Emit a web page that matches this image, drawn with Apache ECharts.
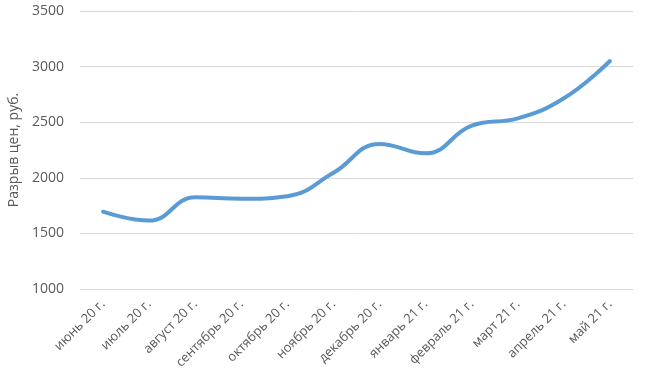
<!DOCTYPE html>
<html>
<head>
<meta charset="utf-8">
<script src="https://cdn.jsdelivr.net/npm/echarts@6/dist/echarts.min.js"></script>
<style>
html, body { margin: 0; padding: 0; background: #fff; }
#chart { width: 645px; height: 385px; }
</style>
</head>
<body>
<div id="chart"></div>
<script>
var months = ['июнь 20 г.', 'июль 20 г.', 'август 20 г.', 'сентябрь 20 г.', 'октябрь 20 г.', 'ноябрь 20 г.',
	'декабрь 20 г.', 'январь 21 г.', 'февраль 21 г.', 'март 21 г.', 'апрель 21 г.', 'май 21 г.'];
var priceGap = [1695, 1615, 1825, 1812, 1835, 2045, 2305, 2220, 2470, 2535, 2715, 3050];
var yTicks = [1000, 3500, 500];

function drawChart(){
	var dom = document.getElementById('chart');
	var myChart = echarts.init(dom, null, { renderer: 'canvas' });

	var option = {
		animation: false,
		textStyle: { fontFamily: 'Open Sans' },
		grid: {
			left: 80,
			right: 12,
			top: 11,
			bottom: 96,
			outerBoundsMode: 'none'
		},
		xAxis: {
			type: 'category',
			data: months,
			boundaryGap: true,
			axisLine: { show: false },
			axisTick: { show: false },
			axisLabel: {
				rotate: 45,
				margin: 13,
				color: '#595959',
				fontSize: 13,
				interval: 0
			}
		},
		yAxis: {
			type: 'value',
			min: yTicks[0],
			max: yTicks[1],
			interval: yTicks[2],
			name: 'Разрыв цен, руб.',
			nameLocation: 'middle',
			nameGap: 58,
			nameTextStyle: { color: '#595959', fontSize: 14 },
			axisLine: { show: false },
			axisTick: { show: false },
			axisLabel: {
				color: '#595959',
				fontSize: 14,
				margin: 16,
				formatter: function (v) { return String(v); }
			},
			splitLine: { lineStyle: { color: '#d9d9d9', width: 1 } }
		},
		series: [
			{
				type: 'line',
				data: priceGap,
				smooth: 0.45,
				showSymbol: false,
				lineStyle: { color: '#5b9bd5', width: 4, cap: 'round' },
				itemStyle: { color: '#5b9bd5' }
			}
		]
	};

	myChart.setOption(option);
	window.addEventListener('resize', myChart.resize);
}
drawChart();
</script>
</body>
</html>
